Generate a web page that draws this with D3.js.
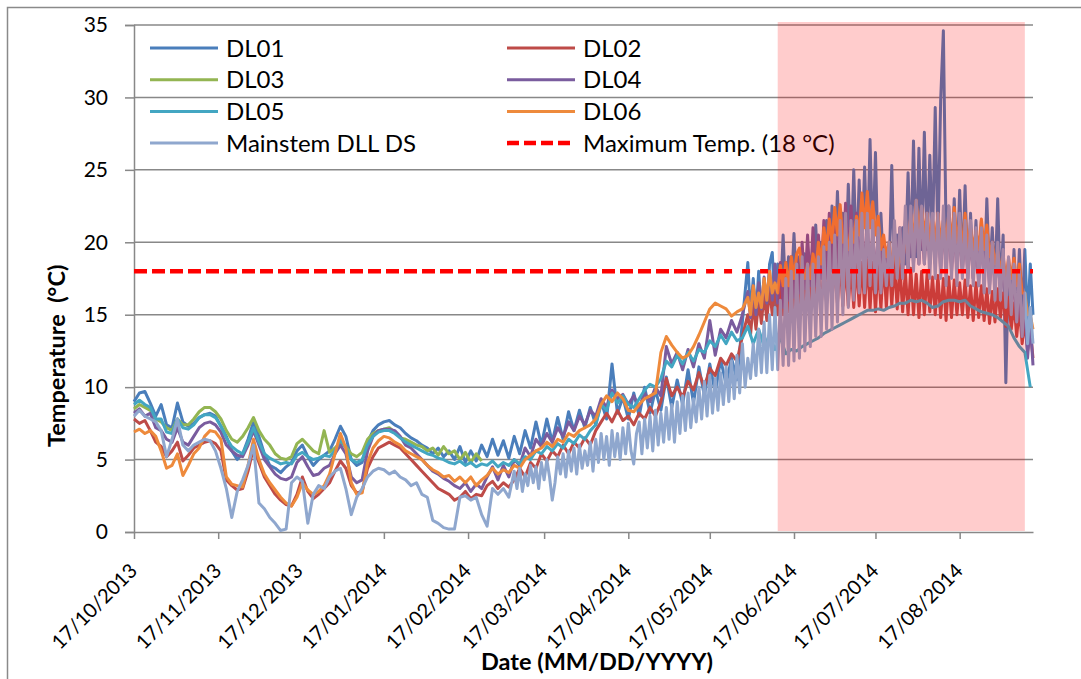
<!DOCTYPE html>
<html><head><meta charset="utf-8">
<script src="https://cdn.jsdelivr.net/npm/d3@7"></script>
<style>
body{margin:0;background:#fff;}
svg{display:block;font-family:Lato,'Open Sans',sans-serif;}
</style>
</head><body>
<svg id="chart" width="1081" height="679"></svg>
<script>
// ---------- DATA ----------
// Part A: readings every 2 days from 17/10/2013 (alternating low / high)
// Part B: daily readings (alternating high / low)
const partAStart = "2013-10-17", partAStep = 2;
const partBStart = "2014-05-31", partBStep = 1;
const partBStartMain = "2014-03-06";
const domainEnd = "2014-09-13";

const DL01_A = [
 9.0,9.6,9.7,8.9,8.0,8.8,7.4,7.2,8.9,7.6,
 7.3,7.5,7.9,8.1,8.2,8.0,7.3,6.6,5.6,5.0,
 5.4,6.4,7.6,6.6,5.4,4.6,4.4,4.1,4.5,4.8,
 5.6,6.0,5.2,4.6,5.0,5.3,5.6,6.4,7.3,6.6,
 5.0,4.6,4.8,6.2,7.0,7.4,7.6,7.7,7.4,7.2,
 6.8,6.5,6.3,6.0,5.8,5.4,5.8,5.2,5.6,5.0,
 5.9,4.8,5.6,4.9,6.0,5.2,6.4,5.3,6.3,5.1,
 6.6,5.4,7.0,5.8,7.6,6.0,7.8,6.2,7.9,6.4,
 8.3,7.0,8.4,7.2,8.6,7.4,9.0,7.8,11.6,8.2,
 9.3,7.8,9.6,8.0,10.0,8.2,9.8,8.4,10.7,8.6,
 10.5,8.8,11.2,8.9,11.4,9.4,11.6,9.6,11.9,10.2,
 12.0,10.5,14.5];
const DL01_B = [
 18.6,15.0,17.5,14.8,18.0,15.2,17.2,15.0,18.5,19.3,
 15.5,18.5,16.0,20.5,16.0,19.0,16.5,20.6,16.5,19.0,
 16.5,19.2,17.0,18.5,17.0,21.2,17.0,20.0,17.5,21.5,
 17.5,22.5,18.0,23.5,18.0,22.0,18.0,24.0,18.5,25.0,
 18.5,24.3,19.0,25.2,19.0,27.1,19.5,26.2,18.5,22.0,
 18.0,19.0,17.5,25.3,17.5,20.5,18.0,21.0,18.5,24.8,
 19.0,27.0,19.0,26.5,19.5,27.6,19.5,26.0,20.0,29.3,
 20.0,29.8,34.6,20.5,22.5,18.5,23.0,18.0,23.6,18.0,
 23.9,17.5,22.0,17.5,21.5,17.0,21.5,17.0,23.0,17.5,
 21.0,17.0,23.0,16.5,20.5,10.3,18.5,15.5,19.5,15.5,
 19.5,15.0,19.5,14.5,18.5,15.0];

const DL02_A = [
 7.8,7.5,7.7,7.0,6.2,5.9,5.2,5.6,6.2,4.9,
 5.3,5.8,6.0,6.2,6.3,6.1,5.6,3.6,3.2,2.9,
 3.0,4.2,5.8,4.8,3.8,3.2,2.6,2.2,1.9,1.8,
 2.6,3.8,2.8,2.3,2.6,3.0,3.4,4.2,4.9,4.4,
 3.2,2.7,2.8,4.4,5.2,5.8,6.0,6.2,6.0,5.8,
 5.4,5.0,4.6,4.2,3.8,3.4,3.0,2.8,2.6,2.2,
 2.4,2.8,2.3,2.6,2.5,3.2,3.5,3.0,3.4,3.1,
 3.6,4.4,3.8,4.8,4.4,5.4,4.9,5.6,5.2,6.0,
 5.4,6.2,5.8,6.5,6.0,7.0,7.6,8.2,7.6,8.4,
 7.7,8.0,7.4,8.2,7.8,8.6,8.0,9.0,10.6,9.4,
 10.0,9.3,10.4,9.8,11.0,10.0,11.3,10.8,12.0,11.5,
 12.3,11.8,13.5];
const DL02_B = [
 15.0,13.6,15.8,14.0,16.0,14.4,16.5,14.6,16.8,15.0,
 17.0,15.0,17.4,15.0,17.5,15.2,17.6,15.2,17.8,15.5,
 17.6,15.5,17.8,15.6,18.0,15.8,18.0,15.6,18.2,15.8,
 18.4,16.0,18.5,15.8,18.6,15.6,18.5,15.6,18.4,15.5,
 18.6,15.6,18.6,15.5,18.8,15.4,18.6,15.2,18.6,15.4,
 18.8,15.5,18.8,15.6,18.6,15.4,18.4,15.2,18.0,15.0,
 18.2,15.0,17.8,14.8,18.0,15.0,17.8,15.2,17.6,15.0,
 17.7,14.8,17.5,14.6,17.6,14.8,17.4,15.0,17.2,15.0,
 17.4,14.8,17.0,14.6,17.2,14.8,17.0,14.6,16.8,14.4,
 16.6,14.5,16.8,14.8,16.5,14.2,16.2,14.0,15.8,13.5,
 15.5,13.0,14.5,12.5,14.0,12.0];

const DL03_A = [
 8.5,8.8,8.6,8.4,7.8,7.6,7.2,7.0,7.8,7.4,
 7.4,7.8,8.3,8.6,8.6,8.3,7.8,7.0,6.4,6.2,
 6.6,7.2,7.9,7.0,6.4,6.0,5.4,5.1,5.0,5.2,
 6.1,6.4,6.0,5.6,5.4,7.0,5.5,5.8,6.2,5.9,
 5.4,5.2,5.5,6.4,6.8,7.0,7.1,7.2,6.9,6.5,
 6.4,6.2,6.0,5.9,5.6,5.8,5.3,5.9,5.4,5.6,
 5.0,5.5,4.8,5.4,4.9];

const DL04_A = [
 8.2,8.5,8.0,8.2,7.2,7.0,6.4,6.2,7.2,6.2,
 6.0,6.6,7.2,7.5,7.6,7.4,6.9,6.0,5.6,5.3,
 5.2,6.0,7.0,6.0,5.0,4.5,4.0,3.7,3.6,3.8,
 4.8,5.2,4.5,3.9,4.0,4.4,4.6,5.4,6.0,5.4,
 3.8,3.4,3.6,5.6,6.6,7.0,7.1,7.1,7.0,6.6,
 6.0,5.8,5.4,5.0,4.6,4.2,4.0,3.7,3.5,3.2,
 3.0,3.4,2.8,3.3,3.0,3.8,4.5,3.6,4.6,3.8,
 5.0,4.6,5.8,5.2,6.4,5.9,6.8,6.2,7.2,6.6,
 7.6,7.0,8.0,7.4,8.4,8.0,9.2,8.6,9.8,9.2,
 9.5,8.8,9.4,8.6,9.6,9.0,10.0,9.4,12.8,11.6,
 12.4,11.2,12.6,11.4,13.0,12.0,14.6,12.2,14.0,13.4,
 14.6,13.8,15.0];
const DL04_B = [
 16.6,14.8,17.0,15.0,17.2,15.4,17.6,15.8,18.0,16.0,
 18.5,15.8,18.6,15.5,18.6,16.0,19.0,16.2,19.2,16.5,
 20.0,16.8,20.5,17.0,21.0,17.0,20.5,17.5,21.5,17.5,
 22.0,18.0,21.5,18.0,22.0,18.5,22.7,18.5,22.5,18.5,
 22.0,18.0,21.5,18.0,21.0,18.0,20.6,17.5,20.5,17.5,
 20.0,17.5,19.5,17.5,20.0,18.0,21.0,18.0,21.5,18.0,
 22.0,18.5,22.0,18.5,21.5,18.5,22.0,18.5,21.5,18.5,
 22.0,18.0,21.5,18.0,21.5,18.0,21.0,18.0,21.0,18.0,
 21.0,18.0,20.5,17.5,20.5,17.5,20.5,17.5,20.0,17.0,
 20.0,17.0,19.5,16.5,19.0,16.0,18.5,15.5,17.5,14.5,
 16.5,13.5,15.5,12.0,14.5,11.5];

const DL05_A = [
 8.8,9.1,8.8,8.6,7.8,7.8,6.9,6.8,7.8,7.2,
 7.1,7.4,7.9,8.1,8.1,7.9,7.3,6.5,5.9,5.6,
 5.4,6.2,7.2,6.2,5.4,5.1,4.9,4.7,4.8,4.7,
 5.3,5.5,5.2,5.0,5.1,5.3,5.2,5.6,6.4,5.8,
 5.0,4.8,5.0,6.0,6.6,6.9,7.0,7.0,6.8,6.5,
 6.2,6.0,5.8,5.6,5.4,5.3,5.1,5.0,4.8,4.7,
 4.9,4.6,4.8,4.5,4.7,4.6,4.9,4.5,4.8,4.6,
 5.0,4.7,5.2,5.0,5.6,5.4,5.9,5.6,6.1,5.8,
 6.4,6.1,6.7,6.4,7.0,7.4,8.8,8.4,9.6,8.9,
 9.4,8.8,8.6,9.2,9.8,10.2,10.0,10.6,11.8,11.4,
 12.2,11.6,12.4,11.8,12.6,12.4,13.2,12.8,13.6,13.0,
 13.8,13.2,13.4,14.2,13.0,14.0,12.8,13.6,12.6,13.4,
 12.3,12.6,12.5,12.8,13.0,13.2,13.4,13.7,13.9,14.1,
 14.3,14.5,14.7,14.9,15.1,15.3,15.3,15.4,15.3,15.5,
 15.6,15.8,15.8,16.0,15.9,16.0,15.8,15.5,15.6,15.9,
 16.0,16.0,15.9,16.0,15.6,15.4,15.2,15.1,15.0,14.8,
 14.5,14.2,13.4,12.8,12.4,10.0];

const DL06_A = [
 6.9,7.1,6.8,7.0,6.6,5.6,4.4,4.6,5.4,3.9,
 4.6,5.4,5.8,6.6,7.0,6.9,6.4,3.8,3.3,3.2,
 3.1,4.6,6.4,5.0,4.0,3.4,2.9,2.4,2.0,1.8,
 2.4,3.4,2.9,2.6,2.8,3.2,4.0,5.4,6.8,5.8,
 3.4,2.6,2.7,4.8,5.8,6.3,6.6,6.5,6.2,6.0,
 5.6,5.4,5.2,5.0,4.6,4.3,4.1,3.8,3.9,3.5,
 3.8,3.4,3.8,3.2,3.6,3.9,4.4,4.0,4.3,4.1,
 4.6,4.4,5.0,5.3,5.6,5.8,6.2,5.9,6.4,6.2,
 6.8,6.6,7.0,7.2,7.4,7.8,8.8,9.4,9.0,9.6,
 9.2,8.4,8.3,8.8,9.2,9.4,9.6,12.4,13.5,12.9,
 12.4,12.0,12.2,12.8,13.6,14.5,15.4,15.8,15.6,15.4,
 14.9,15.2,15.4];
const DL06_B = [
 16.2,15.0,17.0,15.5,16.5,15.5,17.5,16.0,18.0,16.5,
 17.2,16.5,18.4,17.0,18.6,17.0,19.0,17.5,19.2,19.6,
 18.0,17.5,18.5,17.5,19.2,18.0,20.0,18.5,21.0,19.5,
 21.6,20.0,22.4,20.5,22.6,20.0,20.4,19.5,21.0,20.0,
 21.8,20.5,23.4,21.0,23.5,21.0,22.8,20.5,21.8,19.5,
 20.5,19.0,20.0,18.5,19.4,18.0,19.0,18.5,20.5,19.5,
 21.9,20.0,22.9,20.5,22.4,20.5,22.0,20.0,21.6,20.0,
 22.0,20.0,21.5,20.0,22.0,20.0,22.4,20.0,21.5,19.5,
 22.0,19.5,21.0,19.5,20.8,19.5,21.6,19.5,21.2,19.0,
 20.0,18.5,19.4,18.0,19.0,17.5,18.9,17.5,18.9,17.0,
 18.5,16.5,16.5,15.0,15.0,14.0];

const MAIN_A = [
 8.0,8.4,8.0,7.8,7.6,7.0,5.2,6.4,7.8,6.0,
 5.6,6.0,6.2,6.4,6.3,5.6,4.4,3.0,1.0,2.8,
 3.6,4.6,6.0,2.0,1.6,1.0,0.6,0.1,0.2,3.4,
 3.8,3.5,0.6,2.6,3.2,3.0,3.8,4.2,4.4,3.0,
 1.2,2.4,3.0,3.8,4.2,4.4,4.3,4.0,4.2,3.8,
 3.6,3.2,3.4,2.6,2.4,0.8,0.6,0.3,0.2,0.2,
 2.4,2.5,2.2,2.4,1.2,0.4,3.0,2.6,3.0,2.4];
const MAIN_B = [
 4.2,3.0,4.4,2.8,4.0,3.2,4.6,3.4,4.5,3.0,
 4.8,3.6,5.0,3.8,2.2,3.4,5.2,4.0,5.4,3.8,
 5.6,4.2,5.8,4.0,6.0,4.4,5.6,4.6,6.2,4.2,
 6.4,4.8,6.8,5.0,6.6,4.6,7.0,5.2,6.8,5.0,
 7.2,5.4,7.5,5.6,4.7,6.8,7.6,5.4,7.8,5.8,
 8.0,5.6,8.4,6.0,8.2,6.2,8.6,6.4,8.8,6.2,
 9.0,6.8,9.4,7.0,9.6,7.2,9.2,7.6,10.0,7.8,
 10.4,8.0,10.8,8.2,10.6,8.4,11.0,8.8,11.4,9.0,
 11.8,9.2,12.2,9.6,13.0,10.0,
 12.0,10.6,13.0,10.8,14.0,11.0,14.5,11.0,15.0,11.2,
 15.5,11.2,16.0,11.5,17.5,11.5,18.0,11.8,18.5,12.0,
 19.0,12.5,18.5,12.8,18.5,13.5,19.0,13.5,19.7,14.0,
 20.0,14.0,20.5,14.5,21.5,15.0,22.0,15.5,21.5,16.0,
 21.5,16.5,22.0,16.5,22.0,17.0,21.5,16.5,21.0,16.5,
 19.5,17.0,20.0,17.0,21.5,17.5,21.0,17.5,22.5,18.0,
 22.5,18.0,22.9,18.5,22.5,18.5,22.0,17.5,22.0,17.5,
 22.0,17.5,22.5,17.0,22.5,17.5,22.0,17.0,22.0,17.5,
 21.5,17.0,21.5,17.0,21.0,17.0,21.0,16.5,20.5,16.5,
 20.0,16.0,20.0,16.0,19.5,15.5,19.0,15.0,18.5,14.5,
 18.0,13.5,16.5,13.0,15.5,13.0];

const seriesNames = ["DL01","DL02","DL03","DL04","DL05","DL06","Mainstem DLL DS"];
const seriesPartA = [DL01_A, DL02_A, DL03_A, DL04_A, DL05_A, DL06_A, MAIN_A];
const seriesPartB = [DL01_B, DL02_B, [], DL04_B, [], DL06_B, MAIN_B];
const seriesPartBStart = [partBStart, partBStart, partBStart, partBStart, partBStart, partBStart, partBStartMain];
const thresholdName = "Maximum Temp. (18 °C)";
const thresholdValue = 18;
const thresholdBreak = "2014-05-09";
const shadeStart = "2014-06-11";
const shadeEnd   = "2014-09-10";
const xTickLabels = ["17/10/2013","17/11/2013","17/12/2013","17/01/2014","17/02/2014",
  "17/03/2014","17/04/2014","17/05/2014","17/06/2014","17/07/2014","17/08/2014"];
const yTicks = [0,5,10,15,20,25,30,35];
const yTitle = "Temperature  (°C)";
const xTitle = "Date (MM/DD/YYYY)";

// ---------- STYLE ----------
const colors = ["#4A7EBB","#BE4B48","#93B552","#7A5C9E","#43A6C2","#EE8A3C","#8FA7CE"];
const gridColor = "#888888";
const M = {left:134, right:1033, top:25, bottom:532};

// ---------- DRAW ----------
const svg = d3.select("#chart");
const parseISO = d3.timeParse("%Y-%m-%d");
const parseDMY = d3.timeParse("%d/%m/%Y");
const tA = parseISO(partAStart);

const x = d3.scaleTime().domain([tA, parseISO(domainEnd)]).range([M.left, M.right]);
const y = d3.scaleLinear().domain([0,35]).range([M.bottom, M.top]);

// outer border
svg.append("rect").attr("x",7.5).attr("y",7.5).attr("width",1200).attr("height",800)
  .attr("fill","none").attr("stroke","#8a8a8a").attr("stroke-width",1.5);

// gridlines
svg.append("g").selectAll("line").data(yTicks.filter(v=>v>0)).join("line")
  .attr("x1",M.left).attr("x2",M.right).attr("y1",d=>y(d)).attr("y2",d=>y(d))
  .attr("stroke",gridColor).attr("stroke-width",1.5);

// y axis
const yAxis = svg.append("g").attr("transform",`translate(${M.left},0)`)
  .call(d3.axisLeft(y).tickValues(yTicks).tickSize(9).tickPadding(17));
yAxis.select(".domain").attr("stroke",gridColor).attr("stroke-width",1.5);
yAxis.selectAll(".tick line").attr("stroke",gridColor).attr("stroke-width",1.5);
yAxis.selectAll(".tick text").attr("font-family","Lato").attr("font-size",21).attr("fill","#000");

// x axis
const xTickDates = xTickLabels.map(parseDMY);
const xAxis = svg.append("g").attr("transform",`translate(0,${M.bottom})`)
  .call(d3.axisBottom(x).tickValues(xTickDates).tickSize(7).tickSizeOuter(0)
    .tickFormat((d,i)=>xTickLabels[i]));
xAxis.select(".domain").attr("stroke",gridColor).attr("stroke-width",1.5);
xAxis.selectAll(".tick line").attr("stroke",gridColor).attr("stroke-width",1.5);
xAxis.selectAll(".tick text")
  .attr("x",0).attr("y",0).attr("dy",null)
  .attr("transform","translate(4,40) rotate(-45)")
  .attr("text-anchor","end")
  .attr("font-family","Lato").attr("font-size",20).attr("fill","#000");

// series lines
const line = d3.line().x(d=>x(d.t)).y(d=>y(d.v));
const gLines = svg.append("g");
seriesNames.forEach((name,k)=>{
  const tB = parseISO(seriesPartBStart[k]);
  const pts = seriesPartA[k].map((v,i)=>({t:d3.timeDay.offset(tA,i*partAStep),v}))
    .concat(seriesPartB[k].map((v,i)=>({t:d3.timeDay.offset(tB,i*partBStep),v})));
  gLines.append("path").datum(pts).attr("d",line)
    .attr("fill","none").attr("stroke",colors[k]).attr("stroke-width",3)
    .attr("stroke-linejoin","round");
});

// threshold line (two dash segments)
const tb = parseISO(thresholdBreak);
[[tA,tb,"13,5"],[tb,parseISO(domainEnd),"8,10"]].forEach(([a,b,dash])=>{
  svg.append("line").attr("x1",x(a)).attr("x2",x(b))
    .attr("y1",y(thresholdValue)).attr("y2",y(thresholdValue))
    .attr("stroke","#FF0000").attr("stroke-width",4.5).attr("stroke-dasharray",dash);
});

// legend
const legendItems = seriesNames.map((n,i)=>({name:n,color:colors[i],dash:null}))
  .concat([{name:thresholdName,color:"#FF0000",dash:"12,5"}]);
const lg = svg.append("g");
legendItems.forEach((it,i)=>{
  const col = i%2, row = Math.floor(i/2);
  const lx = col===0 ? 150 : 507;
  const ly = 48 + row*31.7;
  lg.append("line").attr("x1",lx).attr("x2",lx+68).attr("y1",ly).attr("y2",ly)
    .attr("stroke",it.color).attr("stroke-width",it.dash?4.5:3)
    .attr("stroke-dasharray",it.dash);
  lg.append("text").attr("x",lx+76).attr("y",ly+8.5)
    .attr("font-size",24).attr("fill","#000").text(it.name);
});

// axis titles
svg.append("text").attr("transform",`translate(65,447) rotate(-90)`)
  .attr("text-anchor","start").attr("font-weight","bold").attr("font-size",23.5)
  .style("white-space","pre").text(yTitle);
svg.append("text").attr("x",597).attr("y",670)
  .attr("text-anchor","middle").attr("font-weight","bold").attr("font-size",23.5).text(xTitle);

// shaded period overlay (drawn on top)
svg.append("rect")
  .attr("x",x(parseISO(shadeStart))).attr("width",x(parseISO(shadeEnd))-x(parseISO(shadeStart)))
  .attr("y",y(35)-3).attr("height",y(0)-y(35)+2)
  .attr("fill","#FF0000").attr("fill-opacity",0.2);
</script>
</body></html>
